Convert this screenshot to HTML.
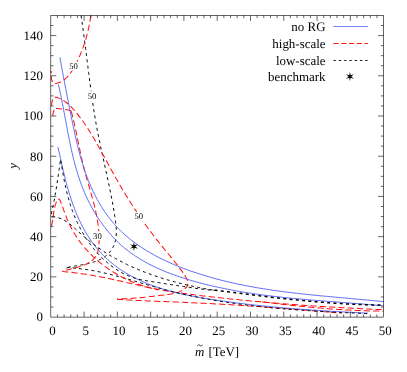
<!DOCTYPE html>
<html><head><meta charset="utf-8"><title>plot</title>
<style>.t text,.t tspan{font-family:"Liberation Serif",serif;text-rendering:geometricPrecision}html,body{margin:0;padding:0;background:#fff;width:407px;height:372px;overflow:hidden;font-family:"Liberation Serif",serif}</style>
</head><body>
<svg width="407" height="372" viewBox="0 0 407 372" style="position:absolute;left:0;top:0">
<defs><filter id="cf" x="0" y="0" width="407" height="372" filterUnits="userSpaceOnUse"><feGaussianBlur stdDeviation="0.22"/></filter></defs><g filter="url(#cf)">
<path d="M81.1,15.6L81.3,17.1L81.5,18.6L81.7,20.1L82.0,21.6L82.2,23.0L82.4,24.5L82.6,26.0L82.8,27.5L83.0,28.9L83.2,30.4L83.4,31.9L83.6,33.4L83.8,34.9L84.0,36.4L84.2,37.9L84.4,39.4L84.6,40.9L84.8,42.4L85.0,43.9L85.2,45.3L85.4,46.8L85.6,48.3L85.8,49.8L86.0,51.3L86.2,52.8L86.4,54.4L86.5,55.9L86.7,57.4L86.9,58.9L87.1,60.4L87.3,61.9L87.5,63.4L87.7,64.9L87.9,66.4L88.0,67.9L88.2,69.4L88.4,70.9L88.6,72.4L88.8,73.9L89.0,75.4L89.2,77.0L89.4,78.5L89.6,80.0L89.8,81.5L90.0,83.0L90.2,84.5L90.4,86.0L90.6,87.5L90.8,89.0L91.0,90.5L91.2,92.0L91.4,93.5L91.6,95.0L91.8,96.5L92.0,98.0L92.2,99.5L92.4,101.0L92.7,102.5L92.9,104.0L93.1,105.5L93.3,107.0L93.6,108.5L93.8,110.0L94.0,111.5L94.3,113.0L94.5,114.5L94.8,116.0L95.0,117.5L95.3,119.0L95.5,120.4L95.8,121.9L96.0,123.4L96.3,124.9L96.6,126.4L96.9,127.8L97.1,129.3L97.4,130.8L97.7,132.3L98.0,133.7L98.3,135.2L98.6,136.7L98.9,138.1L99.2,139.6L99.5,141.1L99.8,142.5L100.1,144.0L100.4,145.4L100.7,146.9L101.0,148.4L101.3,149.8L101.6,151.3L102.0,152.7L102.3,154.2L102.6,155.7L102.9,157.1L103.2,158.6L103.6,160.0L103.9,161.5L104.2,163.0L104.5,164.4L104.8,165.9L105.2,167.4L105.5,168.8L105.8,170.3L106.1,171.7L106.5,173.2L106.8,174.7L107.1,176.1L107.4,177.6L107.7,179.1L108.0,180.6L108.4,182.0L108.7,183.5L109.0,185.0L109.3,186.5L109.6,188.0L109.9,189.4L110.2,190.9L110.5,192.4L110.8,193.9L111.1,195.4L111.4,196.9L111.7,198.4L112.0,199.9L112.3,201.4L112.5,202.9L112.8,204.4L113.1,206.0L113.3,207.5L113.6,209.0L113.9,210.5L114.1,212.1L114.4,213.6L114.6,215.1L114.9,216.7L115.1,218.2L115.3,219.8L115.5,221.3L115.7,222.9L115.9,224.4L116.1,225.9L116.2,227.5L116.3,229.0L116.3,230.5L116.3,232.0L116.3,233.5L116.2,235.0L116.1,236.5L115.9,237.9L115.7,239.4L115.4,240.8L115.0,242.2L114.6,243.5L114.1,244.9L113.5,246.2L112.9,247.5L112.2,248.7L111.5,249.9L110.6,251.1L109.7,252.2L108.8,253.2L107.8,254.3L106.7,255.2L105.6,256.1L104.4,257.0L103.1,257.8L101.8,258.5L100.5,259.2L99.1,259.9L97.7,260.5L96.3,261.1L94.8,261.6L93.3,262.1L91.8,262.6L90.3,263.0L88.7,263.4L87.2,263.8L85.6,264.1L84.1,264.4L82.5,264.7L80.9,265.0L79.4,265.3L77.9,265.5L76.4,265.8L74.9,266.0L73.4,266.3L71.9,266.6L70.5,266.8L69.2,267.1L67.8,267.4L66.5,268.0" fill="none" stroke="#000" stroke-width="1.0" stroke-dasharray="3.0 3.3"/>
<path d="M91.0,15.6L90.6,17.0L90.4,18.6L90.1,20.2L89.9,21.7L89.6,23.3L89.3,24.8L89.0,26.3L88.7,27.8L88.3,29.3L88.0,30.8L87.6,32.3L87.3,33.8L86.9,35.2L86.5,36.7L86.1,38.1L85.7,39.6L85.2,41.0L84.8,42.5L84.3,43.9L83.8,45.3L83.3,46.8L82.8,48.2L82.3,49.6L81.7,51.0L81.1,52.4L80.6,53.8L80.0,55.2L79.3,56.7L78.7,58.1L78.1,59.5L77.4,60.9L76.7,62.3L76.0,63.8L75.3,65.2L74.5,66.6L73.7,68.0L72.9,69.4L72.1,70.7L71.2,72.0L70.3,73.3L69.4,74.5L68.4,75.7L67.4,76.9L66.4,77.9L65.3,78.9L64.1,79.8L62.9,80.7L61.7,81.4L60.4,82.1L59.0,82.6L57.6,83.1L56.2,83.4L54.9,83.4L53.7,83.0L52.8,82.3L52.1,81.1L51.6,79.6L51.3,77.9L51.2,76.1L51.1,74.2L51.2,72.4L51.2,71.0" fill="none" stroke="#ff1010" stroke-width="1.02" stroke-dasharray="6.2 3.1"/>
<path d="M51.3,105.5L51.6,104.4L51.9,102.6L52.3,100.7L52.9,98.9L53.8,97.7L54.9,97.2L56.2,97.3L57.5,97.6L58.8,98.1L60.1,98.7L61.4,99.3L62.7,100.0L63.9,100.8L65.1,101.6L66.3,102.5L67.5,103.5L68.6,104.5L69.8,105.5L70.9,106.6L71.9,107.7L73.0,108.9L74.1,110.0L75.1,111.2L76.1,112.4L77.1,113.6L78.1,114.9L79.0,116.1L80.0,117.3L80.9,118.5L81.8,119.8L82.7,121.0L83.6,122.3L84.5,123.5L85.3,124.8L86.2,126.0L87.0,127.3L87.8,128.5L88.6,129.8L89.5,131.1L90.2,132.3L91.0,133.6L91.8,134.9L92.6,136.2L93.3,137.5L94.1,138.7L94.8,140.0L95.6,141.3L96.3,142.6L97.1,143.9L97.8,145.2L98.5,146.5L99.2,147.8L100.0,149.1L100.7,150.4L101.4,151.8L102.1,153.1L102.9,154.4L103.6,155.7L104.3,157.0L105.0,158.3L105.7,159.7L106.5,161.0L107.2,162.3L107.9,163.6L108.6,164.9L109.4,166.3L110.1,167.6L110.8,168.9L111.5,170.2L112.3,171.6L113.0,172.9L113.7,174.2L114.5,175.5L115.2,176.8L116.0,178.2L116.7,179.5L117.5,180.8L118.2,182.1L119.0,183.4L119.7,184.7L120.5,186.1L121.3,187.4L122.0,188.7L122.8,190.0L123.6,191.3L124.4,192.6L125.2,193.9L126.0,195.2L126.8,196.5L127.6,197.8L128.4,199.1L129.2,200.3L130.0,201.6L130.8,202.9L131.6,204.2L132.4,205.5L133.3,206.7L134.1,208.0L134.9,209.3L135.8,210.6L136.6,211.8L137.5,213.1L138.3,214.3L139.2,215.6L140.0,216.8L140.9,218.1L141.7,219.3L142.6,220.6L143.5,221.8L144.3,223.1L145.2,224.3L146.1,225.5L147.0,226.7L147.9,228.0L148.8,229.2L149.7,230.4L150.6,231.6L151.5,232.8L152.4,234.0L153.3,235.2L154.2,236.4L155.1,237.6L156.0,238.8L156.9,239.9L157.9,241.1L158.8,242.3L159.7,243.5L160.7,244.6L161.6,245.8L162.5,246.9L163.5,248.1L164.4,249.2L165.4,250.4L166.3,251.5L167.3,252.7L168.2,253.8L169.2,255.0L170.1,256.1L171.1,257.3L172.0,258.5L173.0,259.6L173.9,260.8L174.9,262.0L175.8,263.2L176.8,264.4L177.7,265.6L178.7,266.9L179.6,268.1L180.5,269.4L181.5,270.6L182.4,271.9L183.3,273.2L184.2,274.6L185.1,275.9L185.9,277.2L186.7,278.6L187.3,279.9L187.8,281.2L188.0,282.5L188.1,283.7L187.9,284.9L187.4,286.1L186.6,287.2L185.6,288.2L184.3,289.2L182.9,290.1L181.4,290.9L179.9,291.6L178.4,292.2L176.9,292.7L175.4,293.2L173.9,293.5L172.4,293.8L171.0,294.1L169.5,294.3L168.1,294.5L166.6,294.7L165.2,294.8L163.7,295.0L162.2,295.2L160.7,295.3L159.3,295.5L157.8,295.7L156.3,295.9L154.8,296.0L153.3,296.2L151.8,296.4L150.2,296.6L148.7,296.7L147.2,296.9L145.7,297.1L144.2,297.2L142.6,297.4L141.1,297.5L139.6,297.7L138.1,297.8L136.5,298.0L135.0,298.1L133.5,298.2L132.0,298.3L130.5,298.4L129.0,298.5L127.4,298.6L125.9,298.7L124.4,298.7L122.9,298.8L121.4,298.8L120.0,298.9L118.5,298.9L117.0,298.9" fill="none" stroke="#ff1010" stroke-width="1.02" stroke-dasharray="6.2 3.1"/>
<path d="M117.0,298.9L118.5,299.4L120.0,299.5L121.5,299.6L123.0,299.7L124.5,299.8L126.0,299.9L127.5,300.0L129.1,300.0L130.6,300.1L132.1,300.2L133.6,300.3L135.1,300.4L136.6,300.4L138.1,300.5L139.6,300.6L141.1,300.6L142.7,300.7L144.2,300.8L145.7,300.8L147.2,300.9L148.7,301.0L150.2,301.0L151.7,301.1L153.2,301.2L154.7,301.2L156.3,301.3L157.8,301.3L159.3,301.4L160.8,301.5L162.3,301.5L163.8,301.6L165.3,301.6L166.8,301.7L168.4,301.8L169.9,301.8L171.4,301.9L172.9,301.9L174.4,302.0L175.9,302.0L177.4,302.1L178.9,302.2L180.5,302.2L182.0,302.3L183.5,302.3L185.0,302.4L186.5,302.5L188.0,302.5L189.5,302.6L191.0,302.7L192.5,302.7L194.1,302.8L195.6,302.9L197.1,302.9L198.6,303.0L200.1,303.1L201.6,303.2L203.1,303.2L204.6,303.3L206.1,303.4L207.7,303.5L209.2,303.5L210.7,303.6L212.2,303.7L213.7,303.8L215.2,303.9L216.7,303.9L218.2,304.0L219.7,304.1L221.3,304.2L222.8,304.3L224.3,304.4L225.8,304.5L227.3,304.6L228.8,304.6L230.3,304.7L231.8,304.8L233.3,304.9L234.8,305.0L236.4,305.1L237.9,305.2L239.4,305.3L240.9,305.4L242.4,305.5L243.9,305.6L245.4,305.7L246.9,305.8L248.4,305.9L249.9,306.0L251.5,306.1L253.0,306.2L254.5,306.3L256.0,306.4L257.5,306.5L259.0,306.6L260.5,306.7L262.0,306.8L263.5,307.0L265.0,307.1L266.5,307.2L268.1,307.3L269.6,307.4L271.1,307.5L272.6,307.6L274.1,307.7L275.6,307.8L277.1,308.0L278.6,308.1L280.1,308.2L281.6,308.3L283.1,308.4L284.7,308.5L286.2,308.7L287.7,308.8L289.2,308.9L290.7,309.0L292.2,309.1L293.7,309.2L295.2,309.4L296.7,309.5L298.2,309.6L299.7,309.7L301.3,309.8L302.8,310.0L304.3,310.1L305.8,310.2L307.3,310.3L308.8,310.5L310.3,310.6L311.8,310.7L313.3,310.8L314.8,310.9L316.3,311.1L317.8,311.2L319.4,311.3L320.9,311.4L322.4,311.6L323.9,311.7L325.4,311.8L326.9,311.9L328.4,312.1L329.9,312.2L331.4,312.3L332.9,312.5L334.4,312.6L336.0,312.7L337.5,312.8L339.0,313.0L340.5,313.1L342.0,313.0" fill="none" stroke="#ff1010" stroke-width="1.02" stroke-dasharray="6.2 3.1"/>
<path d="M52.7,115.8L52.9,114.7L53.1,113.5L53.3,112.2L53.7,111.0L54.2,110.0L54.9,109.1L56.0,108.5" fill="none" stroke="#ff1010" stroke-width="1.02" stroke-dasharray="6.2 3.1"/>
<path d="M56.0,108.5L57.7,108.6L59.5,108.8L61.2,109.0L63.0,109.2L64.7,109.4L66.5,109.7L68.2,110.1L69.9,110.6L71.5,111.2" fill="none" stroke="#ff1010" stroke-width="1.02" stroke-dasharray="6.2 3.1"/>
<path d="M71.5,111.2L71.6,112.7L72.0,114.2L72.4,115.7L72.7,117.1L73.1,118.6L73.5,120.1L73.8,121.6L74.2,123.0L74.5,124.5L74.8,126.0L75.2,127.5L75.5,128.9L75.8,130.4L76.1,131.9L76.4,133.4L76.7,134.9L77.0,136.4L77.3,137.8L77.6,139.3L77.9,140.8L78.2,142.3L78.6,143.8L78.9,145.3L79.2,146.7L79.5,148.2L79.8,149.7L80.1,151.2L80.4,152.7L80.7,154.1L81.0,155.6L81.3,157.1L81.7,158.6L82.0,160.0L82.3,161.5L82.7,163.0L83.0,164.5L83.4,165.9L83.8,167.4L84.1,168.9L84.5,170.4L84.9,171.8L85.3,173.3L85.7,174.8L86.1,176.2L86.5,177.7L86.9,179.2L87.4,180.6L87.8,182.1L88.2,183.5L88.6,185.0L89.1,186.5L89.5,187.9L89.9,189.4L90.3,190.9L90.7,192.3L91.2,193.8L91.6,195.3L92.0,196.7L92.4,198.2L92.8,199.6L93.2,201.1L93.6,202.6L94.0,204.1L94.3,205.5L94.7,207.0L95.0,208.5L95.4,209.9L95.7,211.4L96.0,212.9L96.3,214.4L96.6,215.9L96.9,217.3L97.2,218.8L97.4,220.3L97.7,221.8L97.9,223.3L98.1,224.8L98.3,226.3L98.5,227.8L98.6,229.3L98.8,230.8L98.9,232.3L99.0,233.8L99.0,235.4L99.1,236.9L99.1,238.4L99.1,239.9L99.1,241.5L99.0,243.0L99.0,244.5L98.8,246.0L98.7,247.5L98.4,249.0L98.1,250.5L97.8,251.9L97.3,253.3L96.7,254.6L96.1,255.9L95.3,257.1L94.4,258.2L93.4,259.3L92.3,260.3L91.1,261.3L89.8,262.1L88.4,262.9L87.0,263.7L85.6,264.4L84.2,265.0L82.7,265.6L81.2,266.1L79.8,266.6L78.3,267.1L76.8,267.5L75.3,267.9L73.8,268.3L72.3,268.7L70.8,269.0L69.4,269.4L67.9,269.8L66.5,270.1L65.1,270.5L63.7,270.9L62.2,271.3" fill="none" stroke="#ff1010" stroke-width="1.02" stroke-dasharray="6.2 3.1"/>
<path d="M62.2,271.3L63.7,271.6L65.2,271.7L66.7,271.9L68.2,272.0L69.7,272.2L71.2,272.3L72.7,272.5L74.2,272.7L75.7,272.9L77.2,273.1L78.7,273.3L80.2,273.5L81.7,273.7L83.2,273.9L84.7,274.1L86.2,274.3L87.6,274.6L89.1,274.8L90.6,275.1L92.1,275.3L93.6,275.6L95.1,275.9L96.6,276.1L98.0,276.4L99.5,276.7L101.0,277.0L102.5,277.3L104.0,277.6L105.4,277.9L106.9,278.2L108.4,278.5L109.9,278.8L111.3,279.1L112.8,279.4L114.3,279.7L115.8,280.0L117.2,280.4L118.7,280.7L120.2,281.0L121.6,281.3L123.1,281.7L124.6,282.0L126.0,282.3L127.5,282.7L129.0,283.0L130.5,283.3L131.9,283.7L133.4,284.0L134.9,284.4L136.3,284.7L137.8,285.0L139.3,285.4L140.7,285.7L142.2,286.0L143.7,286.3L145.1,286.7L146.6,287.0L148.1,287.3L149.5,287.6L151.0,287.9L152.5,288.3L154.0,288.6L155.4,288.9L156.9,289.1L158.4,289.4L159.9,289.7L161.3,290.0L162.8,290.3L164.3,290.5L165.8,290.8L167.3,291.0L168.7,291.3L170.2,291.5L171.7,291.7L173.2,292.0L174.7,292.2L176.2,292.4L177.7,292.6L179.2,292.8L180.6,293.0L182.1,293.2L183.6,293.4L185.1,293.6L186.6,293.8L188.1,294.0L189.6,294.2L191.1,294.4L192.6,294.6L194.1,294.8L195.6,294.9L197.1,295.1L198.6,295.3L200.1,295.5L201.5,295.7L203.0,295.9L204.5,296.0L206.0,296.2L207.5,296.4L209.0,296.6L210.5,296.7L212.0,296.9L213.5,297.1L215.0,297.2L216.5,297.4L218.0,297.6L219.5,297.7L221.0,297.9L222.5,298.1L224.0,298.2L225.5,298.4L227.0,298.5L228.5,298.7L230.0,298.9L231.5,299.0L233.0,299.2L234.5,299.3L236.0,299.5L237.5,299.6L239.0,299.8L240.5,299.9L242.0,300.1L243.5,300.2L245.0,300.4L246.5,300.5L248.0,300.7L249.5,300.8L251.0,300.9L252.5,301.1L254.0,301.2L255.5,301.4L257.0,301.5L258.5,301.6L260.0,301.8L261.5,301.9L263.0,302.0L264.5,302.2L266.0,302.3L267.5,302.4L269.0,302.6L270.5,302.7L272.0,302.8L273.5,303.0L275.0,303.1L276.6,303.2L278.1,303.3L279.6,303.4L281.1,303.6L282.6,303.7L284.1,303.8L285.6,303.9L287.1,304.0L288.6,304.2L290.1,304.3L291.6,304.4L293.1,304.5L294.6,304.6L296.1,304.7L297.6,304.8L299.1,304.9L300.6,305.1L302.1,305.2L303.6,305.3L305.1,305.4L306.6,305.5L308.1,305.6L309.7,305.7L311.2,305.8L312.7,305.9L314.2,306.0L315.7,306.1L317.2,306.2L318.7,306.3L320.2,306.4L321.7,306.5L323.2,306.6L324.7,306.7L326.2,306.8L327.7,306.9L329.2,307.0L330.7,307.0L332.2,307.1L333.7,307.2L335.2,307.3L336.7,307.4L338.2,307.5L339.8,307.6L341.3,307.7L342.8,307.7L344.3,307.8L345.8,307.9L347.3,308.0L348.8,308.1L350.3,308.1L351.8,308.2L353.3,308.3L354.8,308.4L356.3,308.5L357.8,308.5L359.3,308.6L360.8,308.7L362.3,308.8L363.8,308.8L365.3,308.9L366.8,309.0L368.3,309.0L369.8,309.1L371.3,309.2L372.9,309.2L374.4,309.3L375.9,309.4L377.4,309.4L378.9,309.5L380.4,309.6L381.9,309.6L383.4,309.6" fill="none" stroke="#ff1010" stroke-width="1.02" stroke-dasharray="6.2 3.1"/>
<rect x="68.10" y="61.58" width="11.00" height="9.00" fill="#fff"/>
<rect x="86.50" y="91.18" width="11.00" height="9.00" fill="#fff"/>
<rect x="133.20" y="211.98" width="11.00" height="9.00" fill="#fff"/>
<rect x="91.90" y="231.18" width="11.00" height="9.00" fill="#fff"/>
<path d="M60.2,57.3L60.1,58.8L60.4,60.3L60.7,61.8L61.0,63.3L61.2,64.8L61.5,66.3L61.8,67.7L62.1,69.2L62.3,70.7L62.6,72.2L62.9,73.7L63.2,75.2L63.4,76.6L63.7,78.1L64.0,79.6L64.3,81.1L64.6,82.6L64.8,84.0L65.1,85.5L65.4,87.0L65.7,88.5L66.0,89.9L66.2,91.4L66.5,92.9L66.8,94.4L67.1,95.8L67.4,97.3L67.7,98.8L68.0,100.3L68.2,101.7L68.5,103.2L68.8,104.7L69.1,106.1L69.4,107.6L69.7,109.1L70.0,110.6L70.3,112.0L70.6,113.5L70.9,115.0L71.2,116.4L71.5,117.9L71.8,119.4L72.1,120.9L72.4,122.3L72.7,123.8L73.0,125.3L73.4,126.7L73.7,128.2L74.0,129.7L74.3,131.1L74.6,132.6L74.9,134.1L75.3,135.6L75.6,137.0L75.9,138.5L76.3,140.0L76.6,141.4L76.9,142.9L77.3,144.4L77.6,145.8L78.0,147.3L78.4,148.8L78.7,150.2L79.1,151.7L79.5,153.1L79.9,154.6L80.3,156.1L80.7,157.5L81.1,159.0L81.5,160.4L81.9,161.9L82.4,163.3L82.8,164.8L83.3,166.2L83.8,167.7L84.2,169.1L84.7,170.6L85.2,172.0L85.7,173.4L86.2,174.9L86.8,176.3L87.3,177.7L87.8,179.1L88.4,180.5L89.0,182.0L89.6,183.4L90.2,184.8L90.8,186.2L91.4,187.6L92.0,188.9L92.6,190.3L93.3,191.7L94.0,193.1L94.6,194.4L95.3,195.8L96.0,197.1L96.7,198.5L97.4,199.8L98.2,201.1L98.9,202.4L99.7,203.7L100.4,205.0L101.2,206.3L102.0,207.6L102.8,208.9L103.6,210.1L104.5,211.4L105.3,212.6L106.2,213.8L107.0,215.0L107.9,216.3L108.8,217.4L109.7,218.6L110.7,219.8L111.6,220.9L112.5,222.1L113.5,223.2L114.5,224.3L115.5,225.4L116.5,226.5L117.5,227.6L118.5,228.7L119.6,229.7L120.6,230.8L121.7,231.8L122.8,232.8L123.9,233.8L125.0,234.8L126.1,235.8L127.2,236.7L128.3,237.7L129.5,238.6L130.7,239.6L131.8,240.5L133.0,241.4L134.2,242.3L135.4,243.2L136.6,244.1L137.8,244.9L139.0,245.8L140.3,246.6L141.5,247.4L142.8,248.3L144.0,249.1L145.3,249.9L146.6,250.7L147.9,251.4L149.2,252.2L150.5,253.0L151.8,253.7L153.1,254.4L154.4,255.2L155.8,255.9L157.1,256.6L158.4,257.3L159.8,258.0L161.1,258.7L162.5,259.3L163.9,260.0L165.2,260.6L166.6,261.3L168.0,261.9L169.4,262.5L170.8,263.2L172.2,263.8L173.6,264.4L175.0,265.0L176.4,265.6L177.8,266.1L179.2,266.7L180.6,267.3L182.0,267.8L183.5,268.4L184.9,268.9L186.3,269.4L187.7,269.9L189.2,270.5L190.6,271.0L192.0,271.5L193.5,272.0L194.9,272.4L196.4,272.9L197.8,273.4L199.2,273.9L200.7,274.3L202.1,274.8L203.6,275.2L205.0,275.7L206.5,276.1L207.9,276.5L209.4,277.0L210.8,277.4L212.3,277.8L213.7,278.2L215.2,278.6L216.6,279.0L218.1,279.4L219.5,279.7L221.0,280.1L222.4,280.5L223.9,280.8L225.4,281.2L226.8,281.6L228.3,281.9L229.8,282.2L231.2,282.6L232.7,282.9L234.2,283.2L235.6,283.6L237.1,283.9L238.6,284.2L240.0,284.5L241.5,284.8L243.0,285.1L244.4,285.4L245.9,285.7L247.4,286.0L248.9,286.2L250.3,286.5L251.8,286.8L253.3,287.0L254.8,287.3L256.2,287.6L257.7,287.8L259.2,288.1L260.7,288.3L262.2,288.6L263.6,288.8L265.1,289.0L266.6,289.3L268.1,289.5L269.6,289.7L271.1,289.9L272.5,290.2L274.0,290.4L275.5,290.6L277.0,290.8L278.5,291.0L280.0,291.2L281.5,291.4L283.0,291.6L284.5,291.8L285.9,292.0L287.4,292.2L288.9,292.3L290.4,292.5L291.9,292.7L293.4,292.9L294.9,293.1L296.4,293.2L297.9,293.4L299.4,293.6L300.9,293.7L302.4,293.9L303.9,294.1L305.4,294.2L306.9,294.4L308.4,294.6L309.9,294.7L311.4,294.9L312.9,295.0L314.4,295.2L315.9,295.3L317.4,295.5L318.8,295.6L320.3,295.8L321.8,295.9L323.3,296.0L324.8,296.2L326.3,296.3L327.8,296.5L329.4,296.6L330.9,296.7L332.4,296.9L333.9,297.0L335.4,297.2L336.9,297.3L338.4,297.4L339.9,297.6L341.4,297.7L342.9,297.8L344.4,298.0L345.9,298.1L347.4,298.2L348.9,298.4L350.4,298.5L351.9,298.7L353.4,298.8L354.9,298.9L356.4,299.1L357.9,299.2L359.4,299.3L360.9,299.5L362.4,299.6L363.9,299.8L365.4,299.9L366.9,300.0L368.4,300.2L369.9,300.3L371.4,300.5L372.9,300.6L374.4,300.8L375.9,300.9L377.4,301.1L378.9,301.2L380.4,301.4L381.9,301.5L383.4,301.5" fill="none" stroke="#4658f4" stroke-width="0.9"/>
<path d="M58.4,84.4L58.7,85.9L59.1,87.3L59.4,88.8L59.7,90.3L60.0,91.7L60.3,93.2L60.7,94.7L61.0,96.1L61.3,97.6L61.6,99.1L61.8,100.6L62.1,102.0L62.4,103.5L62.7,105.0L63.0,106.5L63.3,108.0L63.6,109.4L63.8,110.9L64.1,112.4L64.4,113.9L64.7,115.4L64.9,116.9L65.2,118.4L65.5,119.9L65.8,121.3L66.0,122.8L66.3,124.3L66.6,125.8L66.9,127.3L67.2,128.8L67.4,130.3L67.7,131.8L68.0,133.3L68.3,134.7L68.6,136.2L68.9,137.7L69.2,139.2L69.5,140.7L69.8,142.2L70.1,143.7L70.4,145.1L70.7,146.6L71.0,148.1L71.4,149.6L71.7,151.0L72.0,152.5L72.4,154.0L72.7,155.5L73.1,156.9L73.4,158.4L73.8,159.9L74.2,161.3L74.6,162.8L74.9,164.2L75.3,165.7L75.7,167.1L76.1,168.6L76.6,170.0L77.0,171.5L77.4,172.9L77.9,174.3L78.3,175.8L78.8,177.2L79.3,178.6L79.7,180.0L80.2,181.4L80.7,182.8L81.2,184.3L81.8,185.7L82.3,187.1L82.8,188.4L83.4,189.8L84.0,191.2L84.5,192.6L85.1,194.0L85.7,195.4L86.4,196.7L87.0,198.1L87.6,199.4L88.3,200.8L89.0,202.1L89.7,203.5L90.3,204.8L91.1,206.1L91.8,207.5L92.5,208.8L93.3,210.1L94.0,211.4L94.8,212.7L95.6,214.0L96.4,215.3L97.2,216.5L98.0,217.8L98.9,219.1L99.7,220.3L100.6,221.6L101.5,222.8L102.3,224.0L103.2,225.3L104.1,226.5L105.1,227.7L106.0,228.9L106.9,230.1L107.9,231.2L108.8,232.4L109.8,233.6L110.8,234.7L111.8,235.8L112.8,237.0L113.8,238.1L114.8,239.2L115.9,240.2L117.0,241.3L118.0,242.3L119.1,243.4L120.3,244.4L121.4,245.4L122.5,246.4L123.7,247.3L124.8,248.3L126.0,249.2L127.2,250.2L128.4,251.1L129.6,252.0L130.8,252.9L132.0,253.7L133.2,254.6L134.5,255.4L135.7,256.3L137.0,257.1L138.3,257.9L139.5,258.7L140.8,259.5L142.1,260.2L143.4,261.0L144.7,261.7L146.0,262.5L147.3,263.2L148.7,263.9L150.0,264.6L151.3,265.2L152.7,265.9L154.1,266.6L155.4,267.2L156.8,267.9L158.1,268.5L159.5,269.1L160.9,269.7L162.3,270.3L163.7,270.9L165.1,271.5L166.5,272.0L167.9,272.6L169.3,273.1L170.7,273.7L172.1,274.2L173.6,274.7L175.0,275.2L176.4,275.7L177.8,276.2L179.3,276.7L180.7,277.2L182.2,277.7L183.6,278.1L185.0,278.6L186.5,279.0L187.9,279.5L189.4,279.9L190.8,280.4L192.3,280.8L193.7,281.2L195.2,281.6L196.7,282.0L198.1,282.4L199.6,282.8L201.0,283.2L202.5,283.6L204.0,284.0L205.4,284.3L206.9,284.7L208.4,285.0L209.8,285.4L211.3,285.7L212.8,286.1L214.2,286.4L215.7,286.8L217.2,287.1L218.6,287.4L220.1,287.7L221.6,288.0L223.1,288.3L224.5,288.6L226.0,288.9L227.5,289.2L229.0,289.5L230.5,289.8L231.9,290.1L233.4,290.4L234.9,290.6L236.4,290.9L237.9,291.2L239.3,291.4L240.8,291.7L242.3,291.9L243.8,292.2L245.3,292.4L246.8,292.6L248.3,292.9L249.7,293.1L251.2,293.3L252.7,293.5L254.2,293.8L255.7,294.0L257.2,294.2L258.7,294.4L260.2,294.6L261.7,294.8L263.2,295.0L264.7,295.2L266.2,295.4L267.7,295.6L269.2,295.8L270.7,295.9L272.1,296.1L273.6,296.3L275.1,296.5L276.6,296.6L278.1,296.8L279.6,297.0L281.1,297.1L282.6,297.3L284.1,297.5L285.6,297.6L287.1,297.8L288.6,297.9L290.1,298.1L291.6,298.2L293.2,298.4L294.7,298.5L296.2,298.6L297.7,298.8L299.2,298.9L300.7,299.1L302.2,299.2L303.7,299.3L305.2,299.5L306.7,299.6L308.2,299.7L309.7,299.9L311.2,300.0L312.7,300.1L314.2,300.2L315.7,300.4L317.2,300.5L318.7,300.6L320.2,300.7L321.7,300.8L323.2,301.0L324.8,301.1L326.3,301.2L327.8,301.3L329.3,301.4L330.8,301.5L332.3,301.7L333.8,301.8L335.3,301.9L336.8,302.0L338.3,302.1L339.8,302.2L341.3,302.4L342.8,302.5L344.3,302.6L345.8,302.7L347.3,302.8L348.8,302.9L350.4,303.1L351.9,303.2L353.4,303.3L354.9,303.4L356.4,303.5L357.9,303.7L359.4,303.8L360.9,303.9L362.4,304.0L363.9,304.1L365.4,304.3L366.9,304.4L368.4,304.5L369.9,304.7L371.4,304.8L372.9,304.9L374.4,305.1L375.9,305.2L377.4,305.3L378.9,305.5L380.4,305.6L381.9,305.7L383.4,305.8" fill="none" stroke="#4658f4" stroke-width="0.9"/>
<path d="M57.9,147.1L58.3,148.6L58.6,150.0L58.9,151.5L59.3,152.9L59.6,154.3L59.9,155.8L60.2,157.3L60.5,158.7L60.8,160.2L61.2,161.6L61.5,163.1L61.8,164.6L62.2,166.0L62.5,167.5L62.8,169.0L63.2,170.4L63.5,171.9L63.9,173.4L64.3,174.9L64.6,176.3L65.0,177.8L65.4,179.3L65.7,180.8L66.1,182.2L66.5,183.7L66.9,185.2L67.3,186.7L67.8,188.1L68.2,189.6L68.6,191.0L69.0,192.5L69.5,194.0L69.9,195.4L70.4,196.9L70.9,198.3L71.3,199.8L71.8,201.2L72.3,202.6L72.8,204.1L73.3,205.5L73.9,206.9L74.4,208.4L74.9,209.8L75.5,211.2L76.1,212.6L76.6,214.0L77.2,215.4L77.8,216.8L78.4,218.1L79.1,219.5L79.7,220.9L80.4,222.2L81.0,223.6L81.7,224.9L82.4,226.3L83.1,227.6L83.8,228.9L84.5,230.2L85.3,231.5L86.0,232.8L86.8,234.1L87.6,235.4L88.4,236.6L89.2,237.9L90.0,239.1L90.9,240.3L91.7,241.6L92.6,242.8L93.5,244.0L94.4,245.2L95.3,246.3L96.3,247.5L97.2,248.7L98.2,249.8L99.2,250.9L100.2,252.0L101.2,253.1L102.2,254.2L103.3,255.3L104.4,256.4L105.4,257.4L106.5,258.5L107.6,259.5L108.8,260.5L109.9,261.5L111.0,262.4L112.2,263.4L113.4,264.3L114.6,265.3L115.8,266.2L117.0,267.1L118.2,268.0L119.4,268.8L120.7,269.7L121.9,270.5L123.2,271.3L124.5,272.1L125.7,272.9L127.0,273.7L128.3,274.4L129.7,275.2L131.0,275.9L132.3,276.6L133.6,277.3L135.0,278.0L136.3,278.7L137.7,279.3L139.1,280.0L140.4,280.6L141.8,281.2L143.2,281.8L144.6,282.4L145.9,283.0L147.3,283.6L148.7,284.1L150.1,284.7L151.5,285.2L152.9,285.7L154.4,286.2L155.8,286.7L157.2,287.2L158.6,287.7L160.1,288.1L161.5,288.6L162.9,289.0L164.4,289.5L165.8,289.9L167.3,290.3L168.7,290.7L170.2,291.1L171.6,291.5L173.1,291.9L174.6,292.3L176.0,292.6L177.5,293.0L179.0,293.3L180.4,293.7L181.9,294.0L183.4,294.3L184.9,294.6L186.3,295.0L187.8,295.3L189.3,295.6L190.8,295.9L192.3,296.1L193.8,296.4L195.3,296.7L196.8,297.0L198.3,297.2L199.8,297.5L201.3,297.8L202.8,298.0L204.2,298.3L205.7,298.5L207.2,298.7L208.7,299.0L210.2,299.2L211.7,299.4L213.2,299.7L214.7,299.9L216.2,300.1L217.7,300.3L219.2,300.6L220.7,300.8L222.2,301.0L223.7,301.2L225.2,301.4L226.7,301.6L228.2,301.8L229.7,302.0L231.2,302.2L232.7,302.4L234.2,302.6L235.7,302.8L237.2,303.0L238.7,303.2L240.2,303.4L241.7,303.5L243.2,303.7L244.7,303.9L246.2,304.1L247.7,304.3L249.2,304.4L250.7,304.6L252.2,304.8L253.7,304.9L255.2,305.1L256.7,305.3L258.2,305.4L259.6,305.6L261.1,305.7L262.6,305.9L264.1,306.0L265.6,306.2L267.1,306.3L268.6,306.5L270.1,306.6L271.6,306.8L273.1,306.9L274.6,307.1L276.1,307.2L277.6,307.3L279.1,307.5L280.6,307.6L282.1,307.7L283.6,307.9L285.1,308.0L286.6,308.1L288.1,308.2L289.6,308.4L291.1,308.5L292.6,308.6L294.1,308.7L295.6,308.8L297.1,309.0L298.6,309.1L300.1,309.2L301.6,309.3L303.1,309.4L304.6,309.5L306.1,309.6L307.6,309.7L309.1,309.8L310.6,309.9L312.1,310.0L313.6,310.1L315.1,310.2L316.6,310.3L318.1,310.4L319.6,310.5L321.1,310.6L322.6,310.7L324.1,310.8L325.6,310.9L327.1,311.0L328.6,311.1L330.1,311.2L331.7,311.3L333.2,311.4L334.7,311.4L336.2,311.5L337.7,311.6L339.2,311.7L340.7,311.8L342.2,311.9L343.7,311.9L345.2,312.0L346.7,312.1L348.2,312.2L349.8,312.3L351.3,312.3L352.8,312.4L354.3,312.5L355.8,312.6L357.3,312.6L358.8,312.7L360.4,312.8L361.9,312.9L363.4,312.9L364.9,313.0L366.4,313.1L367.9,313.2" fill="none" stroke="#4658f4" stroke-width="0.9"/>
<path d="M66.5,268.0L68.1,267.6L69.6,267.7L71.1,267.8L72.6,267.9L74.1,268.0L75.7,268.2L77.2,268.3L78.7,268.5L80.2,268.7L81.7,268.9L83.2,269.0L84.6,269.3L86.1,269.5L87.6,269.7L89.1,269.9L90.6,270.2L92.1,270.5L93.6,270.7L95.0,271.0L96.5,271.3L98.0,271.6L99.5,271.9L100.9,272.2L102.4,272.5L103.9,272.9L105.3,273.2L106.8,273.6L108.3,273.9L109.7,274.3L111.2,274.6L112.7,275.0L114.1,275.4L115.6,275.8L117.0,276.1L118.5,276.5L119.9,276.9L121.4,277.3L122.9,277.7L124.3,278.1L125.8,278.5L127.2,279.0L128.7,279.4L130.1,279.8L131.6,280.2L133.0,280.6L134.5,281.0L135.9,281.5L137.4,281.9L138.8,282.3L140.3,282.7L141.7,283.2L143.2,283.6L144.6,284.0L146.1,284.4L147.5,284.9L149.0,285.3L150.4,285.7L151.9,286.1L153.3,286.5L154.8,286.9L156.2,287.3L157.7,287.8L159.2,288.2L160.6,288.5L162.1,288.9L163.5,289.3L165.0,289.7L166.5,290.1L167.9,290.5L169.4,290.8L170.8,291.2L172.3,291.6L173.8,291.9L175.2,292.3L176.7,292.6L178.2,293.0L179.6,293.3L181.1,293.7L182.6,294.0L184.0,294.3L185.5,294.7L187.0,295.0L188.5,295.3L189.9,295.6L191.4,295.9L192.9,296.2L194.4,296.5L195.8,296.8L197.3,297.1L198.8,297.4L200.3,297.7L201.8,298.0L203.2,298.3L204.7,298.5L206.2,298.8L207.7,299.1L209.2,299.4L210.7,299.6L212.1,299.9L213.6,300.1L215.1,300.4L216.6,300.6L218.1,300.9L219.6,301.1L221.1,301.4L222.5,301.6L224.0,301.8L225.5,302.1L227.0,302.3L228.5,302.5L230.0,302.7L231.5,303.0L233.0,303.2L234.5,303.4L236.0,303.6L237.5,303.8L239.0,304.0L240.5,304.2L242.0,304.4L243.5,304.6L245.0,304.8L246.5,305.0L248.0,305.2L249.4,305.3L250.9,305.5L252.4,305.7L253.9,305.9L255.4,306.0L256.9,306.2L258.5,306.4L260.0,306.5L261.5,306.7L263.0,306.9L264.5,307.0L266.0,307.2L267.5,307.3L269.0,307.5L270.5,307.6L272.0,307.8L273.5,307.9L275.0,308.1L276.5,308.2L278.0,308.3L279.5,308.5L281.0,308.6L282.5,308.7L284.0,308.9L285.5,309.0L287.0,309.1L288.5,309.2L290.1,309.3L291.6,309.5L293.1,309.6L294.6,309.7L296.1,309.8L297.6,309.9L299.1,310.0L300.6,310.1L302.1,310.2L303.6,310.3L305.1,310.4L306.6,310.5L308.2,310.6L309.7,310.7L311.2,310.8L312.7,310.9L314.2,311.0L315.7,311.1L317.2,311.2L318.7,311.3L320.2,311.4L321.7,311.5L323.3,311.5L324.8,311.6L326.3,311.7L327.8,311.8L329.3,311.9L330.8,312.0L332.3,312.0L333.8,312.1L335.3,312.2L336.8,312.3L338.4,312.3L339.9,312.4L341.4,312.5L342.9,312.5L344.4,312.6L345.9,312.7L347.4,312.7L348.9,312.8L350.4,312.9L351.9,312.9L353.5,313.0L355.0,313.1L356.5,313.1L358.0,313.2L359.5,313.3L361.0,313.3L362.5,313.4L364.0,313.4L365.5,313.5L367.0,313.8" fill="none" stroke="#000" stroke-width="1.0" stroke-dasharray="3.0 3.3"/>
<path d="M51.3,214.0L51.7,212.5L52.0,211.0L52.3,209.5L52.7,207.9L53.0,206.4L53.3,204.9L53.6,203.4L53.9,201.8L54.2,200.3L54.5,198.8L54.7,197.3L55.0,195.7L55.3,194.2L55.6,192.7L55.8,191.1L56.1,189.6L56.3,188.1L56.6,186.5L56.8,185.0L57.1,183.5L57.3,181.9L57.5,180.4L57.8,178.9L58.0,177.3L58.2,175.8L58.5,174.2L58.7,172.7L58.9,171.2L59.1,169.6L59.4,168.1L59.6,166.5L59.8,165.0L60.0,163.5L60.2,161.9L60.5,160.4" fill="none" stroke="#000" stroke-width="1.0" stroke-dasharray="3.0 3.3"/>
<path d="M60.5,160.4L61.1,161.8L61.3,163.3L61.5,164.8L61.8,166.3L62.0,167.9L62.3,169.4L62.5,170.9L62.8,172.4L63.0,173.9L63.3,175.4L63.6,176.9L63.9,178.3L64.1,179.8L64.4,181.3L64.7,182.8L65.0,184.3L65.3,185.7L65.7,187.2L66.0,188.7L66.3,190.1L66.7,191.6L67.0,193.0L67.4,194.5L67.8,195.9L68.2,197.4L68.6,198.8L69.0,200.2L69.4,201.7L69.8,203.1L70.3,204.5L70.7,205.9L71.2,207.3L71.7,208.7L72.2,210.2L72.7,211.6L73.2,213.0L73.8,214.4L74.3,215.7L74.9,217.1L75.5,218.5L76.1,219.9L76.7,221.3L77.4,222.7L78.0,224.0L78.7,225.4L79.4,226.7L80.1,228.1L80.8,229.4L81.5,230.8L82.3,232.1L83.1,233.4L83.9,234.7L84.7,236.0L85.5,237.3L86.3,238.6L87.2,239.9L88.0,241.2L88.9,242.4L89.8,243.7L90.7,244.9L91.6,246.1L92.6,247.3L93.5,248.5L94.5,249.7L95.5,250.9L96.5,252.0L97.5,253.1L98.5,254.3L99.6,255.4L100.6,256.5L101.7,257.5L102.8,258.6L103.9,259.6L105.0,260.6L106.1,261.6L107.3,262.6L108.4,263.6L109.6,264.5L110.8,265.5L112.0,266.4L113.2,267.3L114.4,268.1L115.7,269.0L116.9,269.8L118.2,270.6L119.5,271.3L120.7,272.1L122.0,272.8L123.4,273.5L124.7,274.1L126.0,274.8L127.4,275.4L128.8,276.0L130.1,276.5L131.5,277.0L132.9,277.5L134.4,278.0L135.8,278.4L137.2,278.8L138.7,279.2L140.2,279.5L141.6,279.8L143.1,280.1L144.6,280.4L146.1,280.7L147.6,280.9L149.1,281.2L150.6,281.4L152.1,281.7L153.6,281.9L155.1,282.1L156.6,282.4L158.1,282.6L159.6,282.8L161.1,283.1L162.6,283.3L164.1,283.5L165.6,283.8L167.1,284.0L168.6,284.2L170.1,284.5L171.6,284.7L173.1,284.9L174.6,285.2L176.1,285.4L177.6,285.6L179.1,285.9L180.6,286.1L182.1,286.3L183.6,286.5L185.1,286.8L186.6,287.0L188.1,287.2L189.6,287.4L191.0,287.6L192.5,287.9L194.0,288.1L195.5,288.3L197.0,288.5L198.5,288.7L200.0,288.8L201.5,289.0L203.0,289.2L204.5,289.4L206.0,289.6L207.5,289.7L209.0,289.9L210.5,290.1L212.0,290.2L213.4,290.4L215.0,290.3" fill="none" stroke="#000" stroke-width="1.0" stroke-dasharray="3.0 3.3"/>
<path d="M52.3,217.2L54.0,216.8L55.5,217.0L57.0,217.3L58.4,217.7L59.8,218.2L61.1,218.7L62.5,219.3L63.7,220.0L65.0,220.7L66.2,221.5L67.4,222.3L68.6,223.2L69.8,224.1L71.0,225.0L72.1,226.0L73.3,227.0L74.4,228.0L75.5,229.0L76.6,230.0L77.8,231.1L78.9,232.1L80.0,233.1L81.1,234.2L82.3,235.2L83.4,236.2L84.6,237.2L85.7,238.1L86.9,239.1L88.1,240.1L89.3,241.0L90.5,241.9L91.7,242.9L92.9,243.8L94.1,244.7L95.3,245.6L96.5,246.5L97.7,247.3L99.0,248.2L100.2,249.1L101.4,249.9L102.7,250.7L104.0,251.6L105.2,252.4L106.5,253.2L107.8,254.0L109.1,254.8L110.3,255.5L111.6,256.3L112.9,257.1L114.3,257.8L115.6,258.5L116.9,259.3L118.2,260.0L119.5,260.7L120.9,261.4L122.2,262.1L123.6,262.8L124.9,263.4L126.3,264.1L127.6,264.8L129.0,265.4L130.4,266.0L131.7,266.7L133.1,267.3L134.5,267.9L135.9,268.5L137.3,269.1L138.7,269.7L140.1,270.3L141.5,270.8L142.9,271.4L144.3,272.0L145.7,272.5L147.1,273.0L148.6,273.6L150.0,274.1L151.4,274.6L152.8,275.1L154.3,275.6L155.7,276.1L157.2,276.6L158.6,277.1L160.0,277.5L161.5,278.0L162.9,278.5L164.4,278.9L165.8,279.3L167.3,279.8L168.8,280.2L170.2,280.6L171.7,281.0L173.1,281.4L174.6,281.8L176.1,282.2L177.5,282.6L179.0,283.0L180.5,283.4L182.0,283.7L183.4,284.1L184.9,284.5L186.4,284.8L187.9,285.1L189.3,285.5L190.8,285.8L192.3,286.1L193.8,286.5L195.2,286.8L196.7,287.1L198.2,287.4L199.7,287.7L201.1,288.0L202.6,288.2L204.1,288.5L205.6,288.8L207.0,289.1L208.5,289.3L210.0,289.6L211.5,289.8L212.9,290.1L214.5,290.2" fill="none" stroke="#000" stroke-width="1.0" stroke-dasharray="3.0 3.3"/>
<path d="M214.5,290.2L216.0,290.3L217.5,290.5L219.0,290.7L220.5,290.9L222.0,291.1L223.5,291.3L225.0,291.4L226.5,291.6L228.0,291.8L229.5,292.0L231.0,292.2L232.5,292.4L234.0,292.6L235.5,292.8L237.0,293.0L238.5,293.2L240.1,293.3L241.6,293.5L243.1,293.7L244.6,293.9L246.1,294.1L247.6,294.3L249.1,294.5L250.6,294.7L252.1,294.8L253.6,295.0L255.1,295.2L256.6,295.4L258.1,295.6L259.6,295.8L261.1,295.9L262.6,296.1L264.1,296.3L265.6,296.5L267.1,296.7L268.6,296.8L270.1,297.0L271.6,297.2L273.1,297.4L274.6,297.5L276.1,297.7L277.7,297.9L279.2,298.1L280.7,298.2L282.2,298.4L283.7,298.6L285.2,298.7L286.7,298.9L288.2,299.0L289.7,299.2L291.2,299.4L292.7,299.5L294.2,299.7L295.7,299.8L297.2,300.0L298.7,300.1L300.2,300.3L301.8,300.4L303.3,300.6L304.8,300.7L306.3,300.9L307.8,301.0L309.3,301.2L310.8,301.3L312.3,301.4L313.8,301.6L315.3,301.7L316.8,301.8L318.3,302.0L319.9,302.1L321.4,302.2L322.9,302.3L324.4,302.4L325.9,302.6L327.4,302.7L328.9,302.8L330.4,302.9L331.9,303.0L333.4,303.1L335.0,303.2L336.5,303.3L338.0,303.4L339.5,303.5L341.0,303.6L342.5,303.7L344.0,303.8L345.5,303.9L347.0,303.9L348.6,304.0L350.1,304.1L351.6,304.2L353.1,304.2L354.6,304.3L356.1,304.4L357.6,304.4L359.2,304.5L360.7,304.5L362.2,304.6L363.7,304.7L365.2,304.7L366.7,304.7L368.2,304.8L369.8,304.8L371.3,304.8L372.8,304.9L374.3,304.9L375.8,304.9L377.3,304.9L378.9,305.0L380.4,305.0L381.9,305.0L383.4,305.0" fill="none" stroke="#000" stroke-width="1.5" stroke-dasharray="3.0 3.3"/>
<path d="M51.5,226.0L51.8,224.6L52.1,223.3L52.4,221.8L52.7,220.4L52.9,218.8L53.1,217.3L53.3,215.7L53.5,214.0L53.7,212.4L54.0,210.8L54.3,209.2L54.6,207.6L55.0,206.1L55.4,204.6L55.9,203.2L56.5,201.8L57.2,200.5L57.9,199.5L58.7,199.0L59.4,199.4L60.0,200.3L60.6,201.7L61.1,203.1L61.7,204.5L62.2,205.9L62.8,207.4L63.3,208.8L63.8,210.3L64.3,211.8L64.9,213.2L65.4,214.7L66.0,216.1L66.5,217.6L67.1,219.0L67.7,220.4L68.3,221.9L68.9,223.3L69.6,224.7L70.3,226.0L71.0,227.4L71.7,228.8L72.4,230.1L73.2,231.4L73.9,232.7L74.7,234.0L75.5,235.3L76.4,236.6L77.2,237.9L78.1,239.1L78.9,240.3L79.8,241.6L80.7,242.8L81.6,244.0L82.6,245.2L83.5,246.3L84.5,247.5L85.5,248.6L86.5,249.8L87.5,250.9L88.5,252.0L89.6,253.1L90.6,254.1L91.7,255.2L92.8,256.3L93.9,257.3L95.0,258.3L96.1,259.3L97.3,260.3L98.4,261.3L99.6,262.3L100.7,263.2L101.9,264.1L103.1,265.1L104.3,266.0L105.6,266.9L106.8,267.7L108.0,268.6L109.3,269.5L110.5,270.3L111.8,271.1L113.1,271.9L114.4,272.7L115.7,273.5L117.0,274.3L118.3,275.0L119.7,275.8L121.0,276.5L122.3,277.2L123.7,277.9L125.1,278.5L126.4,279.2L127.8,279.9L129.2,280.5L130.6,281.1L132.0,281.7L133.4,282.3L134.8,282.9L136.2,283.4L137.6,284.0L139.1,284.5L140.5,285.0L141.9,285.5L143.4,286.0L144.8,286.4L146.3,286.9L147.8,287.3L149.2,287.7L150.7,288.1L152.2,288.5L153.6,288.9L155.1,289.2L156.6,289.6L158.0,290.1" fill="none" stroke="#ff1010" stroke-width="1.02" stroke-dasharray="6.2 3.1"/>
<path d="M262.0,301.9L263.5,302.0L265.0,302.2L266.5,302.4L268.1,302.6L269.6,302.8L271.1,302.9L272.6,303.1L274.1,303.3L275.6,303.5L277.1,303.7L278.6,303.8L280.2,304.0L281.7,304.2L283.2,304.4L284.7,304.5L286.2,304.7L287.7,304.9L289.2,305.0L290.7,305.2L292.3,305.4L293.8,305.5L295.3,305.7L296.8,305.8L298.3,306.0L299.8,306.2L301.3,306.3L302.9,306.5L304.4,306.6L305.9,306.8L307.4,306.9L308.9,307.1L310.4,307.2L312.0,307.3L313.5,307.5L315.0,307.6L316.5,307.7L318.0,307.9L319.5,308.0L321.1,308.1L322.6,308.3L324.1,308.4L325.6,308.5L327.1,308.6L328.6,308.7L330.2,308.9L331.7,309.0L333.2,309.1L334.7,309.2L336.2,309.3L337.7,309.4L339.3,309.5L340.8,309.6L342.3,309.7L343.8,309.8L345.3,309.9L346.9,309.9L348.4,310.0L349.9,310.1L351.4,310.2L352.9,310.3L354.5,310.3L356.0,310.4L357.5,310.5L359.0,310.5L360.6,310.6L362.1,310.7L363.6,310.7L365.1,310.8L366.6,310.8L368.2,310.9L369.7,310.9L371.2,310.9L372.7,311.0L374.3,311.0L375.8,311.0L377.3,311.1L378.8,311.1L380.4,311.1L381.9,311.1L383.4,311.2" fill="none" stroke="#ff1010" stroke-width="1.02" stroke-dasharray="6.2 3.1"/>
</g>
<g stroke="#000" stroke-width="0.6" fill="none" filter="url(#cf)">
<rect x="50.80" y="15.45" width="332.80" height="301.65"/>
<path d="M57.46,317.10 v-2.70 M57.46,15.45 v2.70 M64.11,317.10 v-2.70 M64.11,15.45 v2.70 M70.77,317.10 v-2.70 M70.77,15.45 v2.70 M77.42,317.10 v-2.70 M77.42,15.45 v2.70 M84.08,317.10 v-5.50 M84.08,15.45 v5.50 M90.74,317.10 v-2.70 M90.74,15.45 v2.70 M97.39,317.10 v-2.70 M97.39,15.45 v2.70 M104.05,317.10 v-2.70 M104.05,15.45 v2.70 M110.70,317.10 v-2.70 M110.70,15.45 v2.70 M117.36,317.10 v-5.50 M117.36,15.45 v5.50 M124.02,317.10 v-2.70 M124.02,15.45 v2.70 M130.67,317.10 v-2.70 M130.67,15.45 v2.70 M137.33,317.10 v-2.70 M137.33,15.45 v2.70 M143.98,317.10 v-2.70 M143.98,15.45 v2.70 M150.64,317.10 v-5.50 M150.64,15.45 v5.50 M157.30,317.10 v-2.70 M157.30,15.45 v2.70 M163.95,317.10 v-2.70 M163.95,15.45 v2.70 M170.61,317.10 v-2.70 M170.61,15.45 v2.70 M177.26,317.10 v-2.70 M177.26,15.45 v2.70 M183.92,317.10 v-5.50 M183.92,15.45 v5.50 M190.58,317.10 v-2.70 M190.58,15.45 v2.70 M197.23,317.10 v-2.70 M197.23,15.45 v2.70 M203.89,317.10 v-2.70 M203.89,15.45 v2.70 M210.54,317.10 v-2.70 M210.54,15.45 v2.70 M217.20,317.10 v-5.50 M217.20,15.45 v5.50 M223.86,317.10 v-2.70 M223.86,15.45 v2.70 M230.51,317.10 v-2.70 M230.51,15.45 v2.70 M237.17,317.10 v-2.70 M237.17,15.45 v2.70 M243.82,317.10 v-2.70 M243.82,15.45 v2.70 M250.48,317.10 v-5.50 M250.48,15.45 v5.50 M257.14,317.10 v-2.70 M257.14,15.45 v2.70 M263.79,317.10 v-2.70 M263.79,15.45 v2.70 M270.45,317.10 v-2.70 M270.45,15.45 v2.70 M277.10,317.10 v-2.70 M277.10,15.45 v2.70 M283.76,317.10 v-5.50 M283.76,15.45 v5.50 M290.42,317.10 v-2.70 M290.42,15.45 v2.70 M297.07,317.10 v-2.70 M297.07,15.45 v2.70 M303.73,317.10 v-2.70 M303.73,15.45 v2.70 M310.38,317.10 v-2.70 M310.38,15.45 v2.70 M317.04,317.10 v-5.50 M317.04,15.45 v5.50 M323.70,317.10 v-2.70 M323.70,15.45 v2.70 M330.35,317.10 v-2.70 M330.35,15.45 v2.70 M337.01,317.10 v-2.70 M337.01,15.45 v2.70 M343.66,317.10 v-2.70 M343.66,15.45 v2.70 M350.32,317.10 v-5.50 M350.32,15.45 v5.50 M356.98,317.10 v-2.70 M356.98,15.45 v2.70 M363.63,317.10 v-2.70 M363.63,15.45 v2.70 M370.29,317.10 v-2.70 M370.29,15.45 v2.70 M376.94,317.10 v-2.70 M376.94,15.45 v2.70 M50.80,307.05 h2.70 M383.60,307.05 h-2.70 M50.80,296.99 h2.70 M383.60,296.99 h-2.70 M50.80,286.94 h2.70 M383.60,286.94 h-2.70 M50.80,276.88 h5.50 M383.60,276.88 h-5.50 M50.80,266.83 h2.70 M383.60,266.83 h-2.70 M50.80,256.77 h2.70 M383.60,256.77 h-2.70 M50.80,246.72 h2.70 M383.60,246.72 h-2.70 M50.80,236.66 h5.50 M383.60,236.66 h-5.50 M50.80,226.61 h2.70 M383.60,226.61 h-2.70 M50.80,216.55 h2.70 M383.60,216.55 h-2.70 M50.80,206.50 h2.70 M383.60,206.50 h-2.70 M50.80,196.44 h5.50 M383.60,196.44 h-5.50 M50.80,186.38 h2.70 M383.60,186.38 h-2.70 M50.80,176.33 h2.70 M383.60,176.33 h-2.70 M50.80,166.28 h2.70 M383.60,166.28 h-2.70 M50.80,156.22 h5.50 M383.60,156.22 h-5.50 M50.80,146.16 h2.70 M383.60,146.16 h-2.70 M50.80,136.11 h2.70 M383.60,136.11 h-2.70 M50.80,126.06 h2.70 M383.60,126.06 h-2.70 M50.80,116.00 h5.50 M383.60,116.00 h-5.50 M50.80,105.94 h2.70 M383.60,105.94 h-2.70 M50.80,95.89 h2.70 M383.60,95.89 h-2.70 M50.80,85.83 h2.70 M383.60,85.83 h-2.70 M50.80,75.78 h5.50 M383.60,75.78 h-5.50 M50.80,65.72 h2.70 M383.60,65.72 h-2.70 M50.80,55.67 h2.70 M383.60,55.67 h-2.70 M50.80,45.61 h2.70 M383.60,45.61 h-2.70 M50.80,35.56 h5.50 M383.60,35.56 h-5.50 M50.80,25.50 h2.70 M383.60,25.50 h-2.70"/>
</g>
<g filter="url(#cf)">
<path d="M333.5,26.5 H368" stroke="#4658f4" stroke-width="0.75" fill="none"/>
<path d="M333.5,43.5 H368" stroke="#ff1010" stroke-width="0.95" stroke-dasharray="5.2 2.55" fill="none"/>
<path d="M333.5,60.5 H368" stroke="#000" stroke-width="0.9" stroke-dasharray="2.3 3.0" fill="none"/>
</g>
<polygon points="349.95,71.80 350.62,75.33 354.02,74.15 351.30,76.50 354.02,78.85 350.62,77.67 349.95,81.20 349.27,77.67 345.88,78.85 348.60,76.50 345.88,74.15 349.27,75.33" fill="#000" filter="url(#cf)"/>
<polygon points="133.95,241.80 134.62,245.33 138.02,244.15 135.30,246.50 138.02,248.85 134.62,247.67 133.95,251.20 133.27,247.67 129.88,248.85 132.60,246.50 129.88,244.15 133.27,245.33" fill="#000" filter="url(#cf)"/>
<defs><filter id="sf" x="-5%" y="-5%" width="110%" height="110%"><feGaussianBlur stdDeviation="0.3"/></filter><filter id="sf2" x="-5%" y="-5%" width="110%" height="110%"><feGaussianBlur stdDeviation="0.12"/></filter></defs>
<g class="t" fill="#000" filter="url(#sf)">
<text x="52.40" y="334.60" font-size="12.95" text-anchor="middle">0</text>
<text x="85.68" y="334.60" font-size="12.95" text-anchor="middle">5</text>
<text x="118.96" y="334.60" font-size="12.95" text-anchor="middle">10</text>
<text x="152.24" y="334.60" font-size="12.95" text-anchor="middle">15</text>
<text x="185.52" y="334.60" font-size="12.95" text-anchor="middle">20</text>
<text x="218.80" y="334.60" font-size="12.95" text-anchor="middle">25</text>
<text x="252.08" y="334.60" font-size="12.95" text-anchor="middle">30</text>
<text x="285.36" y="334.60" font-size="12.95" text-anchor="middle">35</text>
<text x="318.64" y="334.60" font-size="12.95" text-anchor="middle">40</text>
<text x="351.92" y="334.60" font-size="12.95" text-anchor="middle">45</text>
<text x="385.20" y="334.60" font-size="12.95" text-anchor="middle">50</text>
<text x="42.90" y="321.40" font-size="12.95" text-anchor="end">0</text>
<text x="42.90" y="281.18" font-size="12.95" text-anchor="end">20</text>
<text x="42.90" y="240.96" font-size="12.95" text-anchor="end">40</text>
<text x="42.90" y="200.74" font-size="12.95" text-anchor="end">60</text>
<text x="42.90" y="160.52" font-size="12.95" text-anchor="end">80</text>
<text x="42.90" y="120.30" font-size="12.95" text-anchor="end">100</text>
<text x="42.90" y="80.08" font-size="12.95" text-anchor="end">120</text>
<text x="42.90" y="39.86" font-size="12.95" text-anchor="end">140</text>
<text x="325.5" y="30.90" font-size="12.95" text-anchor="end">no RG</text>
<text x="325.5" y="47.90" font-size="12.95" text-anchor="end">high-scale</text>
<text x="325.5" y="64.60" font-size="12.95" text-anchor="end">low-scale</text>
<text x="325.5" y="81.00" font-size="12.95" text-anchor="end">benchmark</text>
</g><g class="t" fill="#000" filter="url(#sf2)">
<text x="73.60" y="69.00" font-size="8.6" text-anchor="middle">50</text>
<text x="92.00" y="98.60" font-size="8.6" text-anchor="middle">50</text>
<text x="138.70" y="219.40" font-size="8.6" text-anchor="middle">50</text>
<text x="97.40" y="238.60" font-size="8.6" text-anchor="middle">30</text>
</g><g class="t" fill="#000" filter="url(#sf)">
<text transform="translate(17.0,165.8) rotate(-90)" font-size="12.95" font-style="italic" text-anchor="middle">y</text>
<text x="195.0" y="355.5" font-size="12.95"><tspan font-style="italic">m</tspan><tspan dx="4.1">[TeV]</tspan></text>
<text x="196.8" y="348.9" font-size="11" font-style="italic">~</text>
</g>
</svg>
</body></html>
